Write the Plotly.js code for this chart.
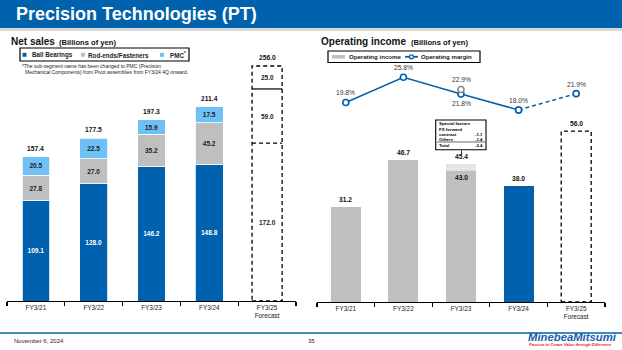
<!DOCTYPE html>
<html><head><meta charset="utf-8">
<script src="https://cdn.plot.ly/plotly-3.0.1.min.js"></script>
<style>html,body{margin:0;padding:0;background:#fff;} #chart{width:622px;height:350px;}</style>
</head><body><div id="chart"></div>
<script>
// ---------- data ----------
const categories = ['FY3/21','FY3/22','FY3/23','FY3/24','FY3/25'];
const tickLabels = ['FY3/21','FY3/22','FY3/23','FY3/24','FY3/25<br>Forecast'];
const ballBearings = [109.1, 128.0, 146.2, 148.8, 172.0];
const rodEnds      = [27.8, 27.0, 35.2, 45.2, 59.0];
const pmc          = [20.5, 22.5, 15.9, 17.5, 25.0];
const netSalesTotal = [157.4, 177.5, 197.3, 211.4, 256.0];
const operatingIncome = [31.2, 46.7, 43.0, 38.0, 56.0];
const opIncomeExSpecial = [null, null, 45.4, null, null];
const operatingMargin = [19.8, 25.8, 21.8, 18.0, 21.9];
const marginExSpecial = [null, null, 22.9, null, null];
const specialFactorLabels = ['FX forward', 'contract', 'Others', 'Total'];
const specialFactorValues = [null, -1.1, -1.4, -2.4];
const forecastIndex = 4;

// ---------- style ----------
const F = 'Liberation Sans, Arial, sans-serif';
const BLUE = '#0062AE', GREY = '#BFBFBF', LBLUE = '#6EC0F6', HEAD = '#0062AC', TXT = '#222';
const W = 622, H = 350;
const px = x => x / W, py = y => 1 - y / H;
const fmt = v => v.toFixed(1);

const nAct = forecastIndex;
const actCats = categories.slice(0, nAct);
const traces = [];

function stackTrace(vals, name, color, textColor) {
  return {
    type: 'bar', x: actCats, y: vals.slice(0, nAct), name: name,
    xaxis: 'x', yaxis: 'y', width: 0.48,
    marker: {color: color, line: {color: '#fff', width: 0.8}},
    text: vals.slice(0, nAct).map(fmt), textposition: 'inside', insidetextanchor: 'middle',
    textangle: 0, textfont: {family: F, size: 6.5, color: textColor, weight: 'bold'},
    hoverinfo: 'skip', showlegend: false, constraintext: 'none'
  };
}
traces.push(stackTrace(ballBearings, 'Ball Bearings', BLUE, '#fff'));
traces.push(stackTrace(rodEnds, 'Rod-ends/Fasteners', GREY, TXT));
traces.push(stackTrace(pmc, 'PMC', LBLUE, TXT));

// operating income bars
traces.push({
  type: 'bar', x: actCats, y: operatingIncome.slice(0, nAct), xaxis: 'x2', yaxis: 'y2', width: 0.52,
  marker: {color: actCats.map((c, i) => i === nAct - 1 ? BLUE : GREY), line: {width: 0}},
  hoverinfo: 'skip', showlegend: false
});
const spIdx = opIncomeExSpecial.findIndex(v => v != null);
traces.push({
  type: 'bar', x: [categories[spIdx]], y: [opIncomeExSpecial[spIdx] - operatingIncome[spIdx]],
  xaxis: 'x2', yaxis: 'y2', width: 0.52,
  marker: {color: '#D9D9D9', line: {width: 0},
           pattern: {shape: '.', fgcolor: '#F5F5F5', bgcolor: '#D4D4D4', size: 2.5, solidity: 0.5}},
  hoverinfo: 'skip', showlegend: false
});

// operating margin line
const markerStyle = {symbol: 'circle', size: 6, color: '#fff', line: {color: BLUE, width: 1.6}};
traces.push({
  type: 'scatter', mode: 'lines+markers', x: categories.slice(0, nAct), y: operatingMargin.slice(0, nAct),
  xaxis: 'x2', yaxis: 'y3', line: {color: BLUE, width: 1.5}, marker: markerStyle,
  hoverinfo: 'skip', showlegend: false, cliponaxis: false
});
traces.push({
  type: 'scatter', mode: 'lines+markers', x: categories.slice(nAct - 1), y: operatingMargin.slice(nAct - 1),
  xaxis: 'x2', yaxis: 'y3', line: {color: BLUE, width: 1.5, dash: '4px,3px'}, marker: markerStyle,
  hoverinfo: 'skip', showlegend: false, cliponaxis: false
});
traces.push({
  type: 'scatter', mode: 'markers', x: [categories[spIdx]], y: [marginExSpecial[spIdx]],
  xaxis: 'x2', yaxis: 'y3',
  marker: {symbol: 'circle', size: 6, color: '#fff', line: {color: '#8C8C8C', width: 1.6}},
  hoverinfo: 'skip', showlegend: false, cliponaxis: false
});

// ---------- shapes ----------
const shapes = [];
shapes.push({type: 'rect', xref: 'paper', yref: 'paper', x0: 0, x1: 1, y0: py(28), y1: 1, fillcolor: HEAD, line: {width: 0}, layer: 'below'});
shapes.push({type: 'rect', xref: 'paper', yref: 'paper', x0: 0, x1: 1, y0: py(31), y1: py(28), fillcolor: '#D9D9D9', line: {width: 0}, layer: 'below'});
shapes.push({type: 'line', xref: 'paper', yref: 'paper', x0: 0, x1: 1, y0: py(333), y1: py(333), line: {color: HEAD, width: 1.3}});

const dash = {color: '#000', width: 1.3, dash: '4px,3px'};
const fx = forecastIndex;
shapes.push({type: 'rect', xref: 'x', yref: 'y', x0: fx - 0.26, x1: fx + 0.26, y0: 0, y1: netSalesTotal[fx], line: dash});
shapes.push({type: 'line', xref: 'x', yref: 'y', x0: fx - 0.26, x1: fx + 0.26, y0: ballBearings[fx], y1: ballBearings[fx], line: dash});
shapes.push({type: 'line', xref: 'x', yref: 'y', x0: fx - 0.26, x1: fx + 0.26,
  y0: ballBearings[fx] + rodEnds[fx], y1: ballBearings[fx] + rodEnds[fx], line: {color: '#000', width: 1.2}});
shapes.push({type: 'rect', xref: 'x2', yref: 'y2', x0: fx - 0.26, x1: fx + 0.26, y0: 0, y1: operatingIncome[fx], line: dash});

// legends (manual)
const box = (x0, y0, x1, y1, fill, lw) => ({type: 'rect', xref: 'paper', yref: 'paper', x0: px(x0), x1: px(x1), y0: py(y1), y1: py(y0),
  fillcolor: fill, line: lw ? {color: '#000', width: lw} : {width: 0}});
shapes.push(box(20, 48, 189, 61, 'rgba(0,0,0,0)', 1.2));
shapes.push(box(22.5, 52.8, 26.5, 56.8, BLUE));
shapes.push(box(81, 52.8, 85, 56.8, GREY));
shapes.push(box(160, 52.8, 164, 56.8, LBLUE));
shapes.push(box(328, 51, 480, 62.5, 'rgba(0,0,0,0)', 1.2));
shapes.push(box(332, 55, 345, 58.6, GREY));
shapes.push({type: 'line', xref: 'paper', yref: 'paper', x0: px(405), x1: px(418), y0: py(56.8), y1: py(56.8), line: {color: BLUE, width: 1.8}});
shapes.push({type: 'circle', xref: 'paper', yref: 'paper', x0: px(409.5), x1: px(413.5), y0: py(58.8), y1: py(54.8), fillcolor: '#fff', line: {color: BLUE, width: 1.3}});

// special factors box
shapes.push(box(435.7, 120, 486, 149.7, 'rgba(255,255,255,1)', 1.1));
shapes.push({type: 'line', xref: 'paper', yref: 'paper', x0: px(437), x1: px(485), y0: py(142), y1: py(142), line: {color: '#000', width: 0.6}});
shapes.push({type: 'line', xref: 'paper', yref: 'paper', x0: px(461.5), x1: px(461.5), y0: py(150.5), y1: py(154.5), line: {color: '#000', width: 0.8}});

// ---------- annotations ----------
const ann = [];
const A = (x, y, text, o) => Object.assign({xref: 'paper', yref: 'paper', x: px(x), y: py(y), text: text, showarrow: false,
  xanchor: 'left', yanchor: 'middle', font: {family: F, size: 6, color: TXT}}, o || {});

ann.push(A(14, 14.5, 'Precision Technologies (PT)', {font: {family: F, size: 18, color: '#fff', weight: 'bold'}}));
ann.push(A(9, 41.5, 'Net sales', {font: {family: F, size: 10, color: '#111', weight: 'bold'}}));
ann.push(A(57, 42, '(Billions of yen)', {font: {family: F, size: 7.6, color: '#111', weight: 'bold'}}));
ann.push(A(318.5, 41.5, 'Operating income', {font: {family: F, size: 10, color: '#111', weight: 'bold'}}));
ann.push(A(409, 42, '(Billions of yen)', {font: {family: F, size: 7.6, color: '#111', weight: 'bold'}}));

ann.push(A(30, 55, 'Ball Bearings', {font: {family: F, size: 6.3, color: TXT, weight: 'bold'}}));
ann.push(A(86, 55, 'Rod-ends/Fasteners', {font: {family: F, size: 6.3, color: TXT, weight: 'bold'}}));
ann.push(A(168, 55, 'PMC<sup>*</sup>', {font: {family: F, size: 6.3, color: TXT, weight: 'bold'}}));
ann.push(A(346.5, 56.5, 'Operating income', {font: {family: F, size: 6.1, color: TXT, weight: 'bold'}}));
ann.push(A(419, 56.5, 'Operating margin', {font: {family: F, size: 6.1, color: TXT, weight: 'bold'}}));

ann.push(A(20, 65.5, '*The sub-segment name has been changed to PMC (Precision', {font: {family: F, size: 5, color: TXT}}));
ann.push(A(22.5, 72, 'Mechanical Components) from Pivot assemblies from FY3/24 4Q onward.', {font: {family: F, size: 5, color: TXT}}));

// totals above net sales bars
categories.forEach((c, i) => {
  ann.push({xref: 'x', yref: 'y', x: c, y: netSalesTotal[i], text: fmt(netSalesTotal[i]), showarrow: false,
    yanchor: 'bottom', yshift: 3, font: {family: F, size: 6.7, color: '#111', weight: 'bold'}});
});
// forecast segment labels
[ballBearings[fx], rodEnds[fx], pmc[fx]].reduce((base, v) => {
  ann.push({xref: 'x', yref: 'y', x: categories[fx], y: base + v / 2, text: fmt(v), showarrow: false,
    font: {family: F, size: 6.5, color: TXT, weight: 'bold'}});
  return base + v;
}, 0);

// operating income labels
categories.forEach((c, i) => {
  const top = opIncomeExSpecial[i] != null ? opIncomeExSpecial[i] : operatingIncome[i];
  ann.push({xref: 'x2', yref: 'y2', x: c, y: top, text: fmt(top), showarrow: false,
    yanchor: 'bottom', yshift: 2, font: {family: F, size: 6.7, color: '#111', weight: 'bold'}});
  if (opIncomeExSpecial[i] != null) {
    ann.push({xref: 'x2', yref: 'y2', x: c, y: operatingIncome[i], text: fmt(operatingIncome[i]), showarrow: false,
      yanchor: 'top', yshift: -1, font: {family: F, size: 6.7, color: '#111', weight: 'bold'}});
  }
});
// margin labels
const mFont = {family: F, size: 6.7, color: '#333'};
operatingMargin.forEach((v, i) => {
  const below = marginExSpecial[i] != null;
  ann.push({xref: 'x2', yref: 'y3', x: categories[i], y: v, text: fmt(v) + '%', showarrow: false,
    yanchor: below ? 'top' : 'bottom', yshift: below ? -4 : 4, font: mFont});
  if (below) {
    ann.push({xref: 'x2', yref: 'y3', x: categories[i], y: marginExSpecial[i], text: fmt(marginExSpecial[i]) + '%', showarrow: false,
      yanchor: 'bottom', yshift: 4, font: mFont});
  }
});

// special factors text
const sfFont = {family: F, size: 4.4, color: '#000', weight: 'bold'};
ann.push(A(436.5, 123.8, 'Special factors', {font: sfFont}));
const sfY = [129.2, 134.4, 139.2, 145];
specialFactorLabels.forEach((t, i) => {
  ann.push(A(436.5, sfY[i], t, {font: sfFont}));
  if (specialFactorValues[i] != null) {
    ann.push(A(485, sfY[i], fmt(specialFactorValues[i]), {xanchor: 'right', font: sfFont}));
  }
});

// footer
ann.push(A(12, 340.5, 'November 6, 2024', {font: {family: F, size: 6, color: TXT}}));
ann.push(A(311, 340.5, '35', {xanchor: 'center', font: {family: F, size: 6, color: TXT}}));
ann.push(A(526, 337, 'MinebeaMitsumi', {font: {family: F, size: 11.3, color: '#1A5DAB', weight: 'bold', style: 'italic'}}));
ann.push(A(527, 344.8, 'Passion to Create Value through Difference', {font: {family: F, size: 4, color: '#E0202E', weight: 'bold', style: 'italic'}}));

// ---------- axes ----------
const xCommon = {type: 'category', categoryorder: 'array', categoryarray: categories, range: [-0.5, 4.5],
  tickvals: categories, ticktext: tickLabels, showline: true, linecolor: '#000', linewidth: 1.3,
  ticks: 'outside', tickson: 'boundaries', ticklen: 4, tickwidth: 1.2, tickcolor: '#000',
  tickfont: {family: F, size: 6.4, color: TXT}, showgrid: false, zeroline: false, fixedrange: true};

const layout = {
  width: W, height: H, margin: {l: 0, r: 0, t: 0, b: 0}, paper_bgcolor: '#fff', plot_bgcolor: 'rgba(0,0,0,0)',
  barmode: 'stack', showlegend: false, font: {family: F},
  xaxis: Object.assign({}, xCommon, {domain: [px(7), px(296)], anchor: 'y'}),
  yaxis: {domain: [py(301), py(50)], range: [0, 251 / 0.918], visible: false, fixedrange: true},
  xaxis2: Object.assign({}, xCommon, {domain: [px(317), px(605)], anchor: 'y2'}),
  yaxis2: {domain: [py(302), py(50)], range: [0, 252 / 3.05], visible: false, fixedrange: true},
  yaxis3: {overlaying: 'y2', range: [18 - 192 / 4.19, 18 + 60 / 4.19], visible: false, fixedrange: true},
  shapes: shapes, annotations: ann
};

Plotly.newPlot('chart', traces, layout, {staticPlot: true, displayModeBar: false});
</script>
</body></html>
